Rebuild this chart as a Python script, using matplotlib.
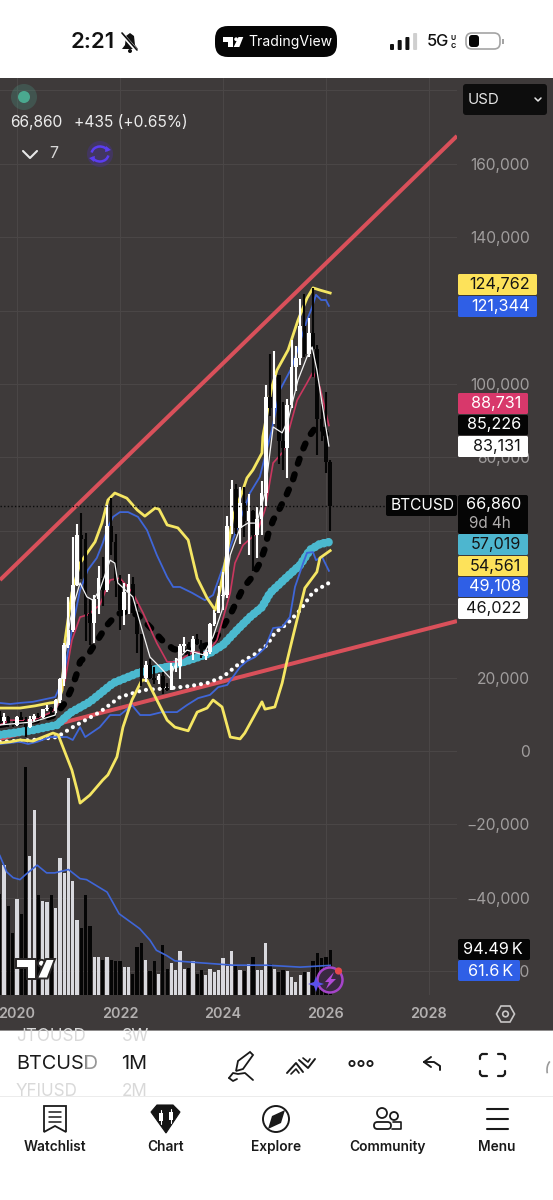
import numpy as np
import matplotlib
matplotlib.use("Agg")
import matplotlib.pyplot as plt
from matplotlib.patches import Rectangle, FancyBboxPatch, Circle, Polygon, Arc

plt.rcParams['font.family'] = ['Inter', 'DejaVu Sans']

# ---------- data (months counted from Jan 2020, prices in thousands of USD) ----------
first_month = -4  # Sep 2019
opens = [9.6,8.3,9.15,7.57,7.19,9.35,8.54,6.41,8.64,9.45,9.14,11.34,11.65,10.78,13.8,19.7,29.0,33.1,45.2,58.8,57.7,37.3,35.0,41.5,47.1,43.8,61.3,57.0,46.2,38.5,43.2,45.5,37.6,31.8,19.8,23.3,20.0,19.4,20.5,17.2,16.5,23.1,23.1,28.5,29.2,27.2,30.5,29.2,25.9,27.0,34.5,37.7,42.3,42.6,61.2,71.3,60.7,67.5,62.7,65.4,58.9,63.3,70.3,96.4,93.4,102.4,84.4,82.5,94.2,104.6,107.1,115.7,108.2,114.0,109.5,90.4,87.5,78.7]
highs = [10.9,10.37,9.5,7.75,9.58,10.5,9.19,9.46,10.07,10.38,11.45,12.48,12.05,14.1,19.87,29.3,41.99,58.35,61.8,64.9,59.5,41.3,42.6,50.5,52.9,67.0,69.0,59.0,47.9,45.8,48.2,47.4,40.0,31.9,24.6,25.2,22.8,21.0,21.5,18.4,23.9,25.3,29.2,31.0,29.8,31.4,31.8,30.2,27.5,35.0,38.4,45.0,48.9,64.0,73.8,72.8,72.0,71.9,70.0,65.6,66.5,73.6,99.8,108.3,109.0,102.5,95.0,95.8,111.9,110.4,123.2,124.5,117.9,126.2,110.7,94.6,97.9,79.3]
lows = [7.71,7.3,6.5,6.43,6.85,8.45,3.85,6.15,8.11,8.9,8.96,10.99,9.82,10.37,13.2,17.6,28.13,32.3,45.0,47.0,30.0,28.8,29.3,37.3,39.6,43.3,53.3,42.0,32.9,34.3,37.2,37.6,26.7,17.6,18.8,19.5,18.2,18.2,15.5,16.3,16.5,21.4,19.6,27.0,25.8,24.8,28.9,25.3,24.9,26.5,34.0,37.6,38.5,41.8,59.0,59.1,56.5,58.4,53.5,49.0,52.5,58.9,66.8,91.3,89.2,78.2,76.6,74.5,93.4,98.2,105.1,107.4,107.3,102.0,80.6,84.5,75.7,60.0]
closes = [8.3,9.15,7.57,7.19,9.35,8.54,6.41,8.64,9.45,9.14,11.34,11.65,10.78,13.8,19.7,29.0,33.1,45.2,58.8,57.7,37.3,35.0,41.5,47.1,43.8,61.3,57.0,46.2,38.5,43.2,45.5,37.6,31.8,19.8,23.3,20.0,19.4,20.5,17.2,16.5,23.1,23.15,28.5,29.2,27.2,30.5,29.2,25.9,27.0,34.5,37.7,42.3,42.6,61.2,71.3,60.7,67.5,62.7,65.4,58.9,63.3,70.3,96.4,93.4,102.4,84.4,82.5,94.2,104.6,107.1,115.7,108.2,114.0,109.5,90.4,87.5,78.7,66.86]
volumes_k = [211,270,185,129,200,169,475,289,384,207,195,193,209,180,285,254,452,238,157,139,207,143,80,80,72,79,72,71,71,58,58,44,100,108,72,49,70,43,105,55,67,53,91,54,57,71,43,51,42,55,47,53,78,61,91,61,51,49,64,79,53,51,109,65,55,48,53,50,37,28,42,48,47,70,88,78,80,94.5]
vol_ma_m = [-4,-2.4,-0.9,0.7,2.2,4.7,6.9,8.8,12,14.7,16.2,21,23.8,28.6,31,32.5,34.9,36.8,42.7,50.4,58.2,66,73]
vol_ma_k = [290,256,244,240,252,270,254,254,261,242,240,214,169,138,114,93,82,71,67,62,62,58,61.6]

yellow_up_m = [-4,0.7,4.2,7.7,9.6,10.5,11.2,12.8,14.7,16.5,18.2,19.8,21.2,22.8,25.6,28,29.8,32.2,33.1,35,37.5,39.9,42,44.3,46.2,47.3,49.2,50.3,52.4,53.6,55,57.1,57.3,59.4,60.6,63.2,65.5,67.6,69,70.6,73]
yellow_up_k = [11.7,11.7,12.3,13.1,13.4,16.6,30.2,43.1,51.2,54.2,57,62.1,68.4,70.3,68.9,65.7,64,66.2,65.9,61.6,60.8,57.5,47.1,41.7,38.4,43.9,55.6,63.8,70.3,74.4,76.6,81.2,85.6,99.2,103.8,109.3,117.4,123.4,126.2,125.6,124.8]
yellow_lo_m = [-4,-1.6,0.7,3.7,5.4,8.4,9.6,10.7,12.8,14,14.7,17,20,21.2,23.3,24.7,26.8,29.1,30.3,32.6,35,36.8,39.9,42,44.3,45.7,47.8,49.7,52,53.1,57.1,57.8,60.1,61.8,62.9,64.3,67.1,69.9,70.6,73]
yellow_lo_k = [2.2,2.5,3,2.7,3.5,4.9,4.4,1.1,-5.2,-10.6,-14.2,-12,-7.9,-6.5,-1.6,6.5,13.9,19.3,19.3,13.9,8.4,6.5,5.5,10.6,11.7,13.9,12,3.8,3.3,4.9,13.4,11.4,12,18.5,24.3,31.1,44.4,48.8,52.6,54.6]
blue_up_m = [-4,-1.6,0.7,3.7,7.7,8.9,10.7,12.8,14.7,16.5,18.6,20,21.2,22.4,24,25.9,28.2,30.3,32.6,35,36.4,38,40.8,43.8,45.7,49.2,54.3,56.6,59.4,61.3,64.1,67.6,68.8,69.7,70.9,72,72.7]
blue_up_k = [13.1,12.8,13.1,13.4,14.4,14.7,19.3,33,43.9,49.3,52.6,56.7,61,63.8,65.1,65.1,63.8,60.2,53.4,47.4,44.7,44.7,43.1,41.1,42.5,54,70.3,74.7,87.5,98.4,104.6,117.4,121,124.3,122.9,122.9,121.3]
blue_lo_m = [-4,0.7,2.6,4.7,7.7,11.7,13,14.7,15.9,19.3,21.7,24,26.8,28.7,31,33.8,37.3,39.6,42.2,45,46.9,49,52,53.6,55.5,57.8,59.7,61.8,63.6,64.8,66.7,67.6,69,69.7,71.1,72.7]
blue_lo_k = [1.9,2.5,1.9,2.5,3.8,3.8,3,6.5,3.8,6.5,9.8,9.8,12.5,9.8,9.8,10.6,10.6,12.5,14.4,15.3,17.4,18,22.9,24.5,25.6,28.1,33.5,33.8,36.5,44.7,51.2,54,54.2,52,52.9,49.1]
cyan_m = [-4,3.7,9.3,12.4,17,22.4,28.7,35,40.3,45,48,51.3,54.3,57.1,59,62.9,66,68.3,70.6,73]
cyan_k = [4.4,5.7,7.1,10.4,13.4,18.5,21.5,22.9,24.8,26.7,28.9,33,36.5,39.2,43.1,47.4,50.7,54.8,56.4,57]
dotted_m = [-4,3.7,9.3,13,19.3,24,29.4,36.4,40.3,44.3,48,52,55.9,58.3,60.1,62.9,66,69,73]
dotted_k = [2.5,3,3.8,6.5,10.6,14.7,16.6,17.2,17.7,18.5,20.2,24,26.7,28.9,32.2,34.6,38.4,43.3,46]
black_m = [-4,0.7,4.9,8.9,11.2,12.8,14,14.7,17,21,23.3,25.2,28.2,31,33.8,36.4,39.6,45.7,49.7,52.7,54.8,56.6,57.8,58.5,59.7,61.3,62.9,64.3,65.3,66.4,67.8,69.5,71.1,72.7]
black_k = [7.1,7.9,8.4,9.8,13.1,17.2,21.3,24.3,27,34.3,37.3,37.9,37.1,33.8,30.2,27.8,27,29.4,37.1,44.4,47.4,51.2,55.3,58.9,62.9,66.2,70,73.8,77.7,81.5,85.3,88,88,85.2]
red_m = [-4,-1.6,3.7,7.7,9.3,11.2,12.8,14.7,16.5,19.3,21.7,24,27,29.4,32.6,35,37.3,41,44.3,46.6,49.7,50.8,52.7,55.9,57.8,59.7,62,65.3,67.6,69,70.6,72.7]
red_k = [7.1,8.4,8.4,10.4,12,19.3,30.2,36.5,37.1,39.8,46.6,47.1,43.1,37.6,29.4,24.3,24.3,27,26.7,30.2,43.1,51.2,56.1,59.4,65.7,78.5,81.5,95.6,100.3,103.3,99.2,88.7]
white_m = [-4,3.7,8.9,10,12.4,13.5,14.7,16.3,17.7,19.3,21.7,22.8,23.5,27,28.7,31,33.3,35.7,37.3,39.6,43.4,45.7,47.8,49.7,52,53.8,55.9,57.8,59.7,61.8,63.2,65.5,67.6,68.8,69.9,71.1,72.7]
white_k = [7.1,7.9,9.8,16.6,35.7,41.1,45.8,42,41.1,43.9,52,51.2,45.8,42,34.9,25.6,22.9,19.9,24.8,27.5,26.2,31.1,38.4,53.4,60.8,62.1,62.1,70.3,88.3,86.7,90.2,101.1,107.4,110.1,103.8,94.8,83.1]
trend_m = [-3.96,102.56]
trend_up_k = [46.6,167.6]
trend_lo_k = [3.3,35.4]

year_ticks = [2020,2022,2024,2026,2028]
price_ticks_k = [180,160,140,120,100,80,60,40,20,0,-20,-40,-60]
hidden_ticks_k = [180,120,60,40]
last_price_k = 66.86

# ---------- colours ----------
BG = '#3e3a3a'; GRID = '#4a4646'; AX_TXT = '#a09d9d'
YEL = '#f5e663'; BLU = '#3f66d8'; CYA = '#4bb9cf'; CRIM = '#c9375f'; RED = '#d9505a'

W, H = 553, 1200
fig = plt.figure(figsize=(W/100, H/100), dpi=100, facecolor='white')

def frac_rect(x0, y0, x1, y1):
    return [x0/W, 1-y1/H, (x1-x0)/W, (y1-y0)/H]

# background chrome
bg = fig.add_axes([0,0,1,1], zorder=0)
bg.set_xlim(0,W); bg.set_ylim(H,0); bg.axis('off')
bg.add_patch(Rectangle((0,78),W,952,color=BG,lw=0))

# price panel
ax = fig.add_axes(frac_rect(0,78,457,995), zorder=2)
ax.patch.set_alpha(0)
ax.set_xlim(-3.96,102.56)
ax.set_ylim((751-995)*0.2725,(751-78)*0.2725)
for s in ax.spines.values(): s.set_visible(False)
ax.set_xticks([(y-2020)*12 for y in year_ticks])
ax.set_xticklabels([str(y) for y in year_ticks], fontsize=10.4, color='#b3b0b0', fontweight='semibold')
ax.set_yticks(price_ticks_k)
ax.set_yticklabels([(f"{v*1000:,}".replace('-','\u2212') if v not in hidden_ticks_k else '') for v in price_ticks_k], fontsize=11.2, color=AX_TXT, ha='right')
ax.yaxis.tick_right()
ax.tick_params(axis='y', length=0, pad=52.5)
ax.tick_params(axis='x', length=0, pad=9)
ax.grid(True, color=GRID, lw=0.8)
ax.set_axisbelow(True)

months = np.arange(first_month, first_month+len(closes))
o,h,l,c = map(np.array,(opens,highs,lows,closes))
up = c>=o
ax.plot(trend_m, trend_up_k, color=RED, lw=2.9, zorder=2, solid_capstyle='butt')
ax.plot(trend_m, trend_lo_k, color=RED, lw=2.9, zorder=2, solid_capstyle='butt')
ax.plot(cyan_m, cyan_k, color=CYA, lw=6.2, ls=(0,(0.01,0.55)), dash_capstyle='round', zorder=2.2)
ax.plot(dotted_m, dotted_k, color='white', lw=3.0, ls=(0,(0.01,1.65)), dash_capstyle='round', zorder=2.3)
ax.plot(black_m, black_k, color='black', lw=4.6, ls=(0,(0.8,1.75)), dash_capstyle='round', zorder=2.4)
ax.plot(red_m, red_k, color=CRIM, lw=1.2, zorder=2.5)
ax.plot(blue_up_m, blue_up_k, color=BLU, lw=1.3, zorder=2.6)
ax.plot(blue_lo_m, blue_lo_k, color=BLU, lw=1.3, zorder=2.6)
ax.plot(yellow_up_m, yellow_up_k, color=YEL, lw=2.0, zorder=2.7)
ax.plot(yellow_lo_m, yellow_lo_k, color=YEL, lw=2.0, zorder=2.7)
cols = np.where(up,'#ffffff','#050505')
ax.vlines(months, l, h, colors=cols, lw=1.5, zorder=3)
ax.bar(months, np.abs(c-o), bottom=np.minimum(o,c), width=0.85, color=cols, lw=0, zorder=3.1)
ax.plot(white_m, white_k, color='#f4f4f4', lw=0.9, zorder=3.2)
ax.axhline(last_price_k, color='#0a0a0a', lw=1, ls=(0,(1,1.6)), zorder=3.3)

# volume panel
vax = fig.add_axes(frac_rect(0,78,457,995), zorder=3, sharex=ax)
vax.patch.set_alpha(0); vax.axis('off')
vax.set_ylim(0,(995-78)*2.08)
vcols = np.where(up,'#d9d9de','#050505')
vax.bar(months, volumes_k, width=0.76, color=vcols, lw=0, zorder=2)
vax.plot(vol_ma_m, vol_ma_k, color=BLU, lw=1.2, zorder=3)

# interface overlay, in screen pixels
ui = fig.add_axes([0,0,1,1], zorder=5)
ui.set_xlim(0,W); ui.set_ylim(H,0); ui.axis('off'); ui.patch.set_alpha(0)

def T(x,y,s,size=11,color='white',ha='left',weight='normal',z=4):
    ui.text(x,y,s,fontsize=size,color=color,ha=ha,va='center',fontweight=weight,zorder=z)
def box(x0,y0,x1,y1,color,r=2,z=1):
    ui.add_patch(FancyBboxPatch((x0+r,y0+r),x1-x0-2*r,y1-y0-2*r,boxstyle=f"round,pad={r},rounding_size={r}",fc=color,ec='none',lw=0,zorder=z))
def line(xs,ys,color='black',lw=1.5,z=3):
    ui.plot(xs,ys,color=color,lw=lw,zorder=z,solid_capstyle='round',solid_joinstyle='round')

# price tags
BL2='#2f5fe6'
tags = [(458,537,274,295,'#fde25a','124,762','#151515'),(458,537,296,317,BL2,'121,344','white'),
        (458,528,393,414,'#d8386b','88,731','white'),(458,528,415,435,'#050505','85,226','white'),
        (458,528,436,457,'white','83,131','#151515'),(458,528,534,555,'#4db6cf','57,019','#151515'),
        (458,528,556,576,'#fde25a','54,561','#151515'),(458,528,577,597,BL2,'49,108','white'),
        (458,528,598,619,'white','46,022','#151515')]
for x0,x1,y0,y1,col,s,tc in tags:
    box(x0,y0,x1,y1,col,r=1.5)
    T(x1-7,(y0+y1)/2,s,11.7,tc,ha='right')
box(386,495,457,516,'#050505'); T(391,505.5,'BTCUSD',11.2,'white')
box(458,495,528,534,'#050505')
T(521,505,'66,860',11.7,'white',ha='right')
T(469,523,'9d 4h',11,'#b0adad')
box(458,939,530,960,'#050505'); T(523,950,'94.49\u2009K',11.7,'white',ha='right')
box(458,960,520,981,BL2); T(513,971,'61.6\u2009K',11.7,'white',ha='right')

# USD box
box(463,84,547,115,'#0d0d0d',r=3); T(468,99.5,'USD',10.8,'#e6e6e6')
line([535,538,541],[98,101,98],'#e6e6e6',1.1)

# legend area
ui.add_patch(Circle((24,97),13,fc='#4b9a86',alpha=0.28,lw=0))
ui.add_patch(Circle((24,97),6,fc='#4aa98f',lw=0))
T(10.5,122.5,'66,860',11.2,'#ececec'); T(74,122.5,'+435 (+0.65%)',11.2,'#ececec')
line([23,30,37],[151,158,151],'#e8e8e8',1.5); T(49,154,'7',11.5,'#d8d8d8')
ui.add_patch(Circle((100,154),13,fc='#4c2fa8',alpha=0.35,lw=0))
ui.add_patch(Arc((100,154),17,15,theta1=190,theta2=340,ec='#5a3df0',lw=1.8))
ui.add_patch(Arc((100,154),17,15,theta1=10,theta2=160,ec='#5a3df0',lw=1.8))
ui.add_patch(Polygon([[106,146],[111,150],[105,152]],fc='#5a3df0',lw=0))
ui.add_patch(Polygon([[94,162],[89,158],[95,156]],fc='#5a3df0',lw=0))

# status bar
T(71,41.5,'2:21',16,'#111111',weight='semibold')
ui.add_patch(Polygon([[122,49],[125,45],[126,36],[130,33],[134,36],[135,45],[138,49]],fc='#111',lw=0))
ui.add_patch(Circle((130,51),2,fc='#111',lw=0))
line([122,137],[34,51],'white',2.6,z=4); line([122,137],[33,50],'#111',1.2,z=5)
box(215,26,337,57,'#050505',r=13)
def tv_logo(x,y,sx,sy,fc,ec=None,z=4):
    e = ec if ec else 'none'
    lw = 1.4 if ec else 0
    ui.add_patch(Polygon([[x,y],[x+13*sx,y],[x+13*sx,y+10*sy],[x+7*sx,y+10*sy],[x+7*sx,y+4.5*sy],[x,y+4.5*sy]],fc=fc,ec=e,lw=lw,zorder=z))
    ui.add_patch(Circle((x+17*sx,y+2.2*sy),2.3*sx,fc=fc,ec=e,lw=lw,zorder=z))
    ui.add_patch(Polygon([[x+20*sx,y],[x+26*sx,y],[x+21*sx,y+10*sy],[x+14*sx,y+10*sy]],fc=fc,ec=e,lw=lw,zorder=z))
tv_logo(222.5,37,0.8,1.0,'white')
T(248,42,'TradingView',10.1,'white')
for i,(bh,col) in enumerate(zip([6,10,13,17],['#111','#111','#111','#cfcfcf'])):
    box(390+i*7.7,49-bh+1,394+i*7.7,50,col,r=1)
T(427,42,'5G',11.8,'#111111',weight='medium')
T(453,38,'U',5,'#111',ha='center',weight='bold')
T(453,46,'C',5,'#111',ha='center',weight='bold')
ui.add_patch(FancyBboxPatch((466,33),34,16,boxstyle="round,pad=0,rounding_size=6",fc='white',ec='#a4a4a4',lw=1.2))
box(469,35,479,47,'#050505',r=3,z=3)
ui.add_patch(Rectangle((502,38.5),1.5,5,fc='#a4a4a4',lw=0))

# hexagon at time axis
hx,hy=505.5,1014
ui.add_patch(Polygon([[hx-9,hy],[hx-4.5,hy-8],[hx+4.5,hy-8],[hx+9,hy],[hx+4.5,hy+8],[hx-4.5,hy+8]],fc='none',ec='#c8c6c6',lw=1.2))
ui.add_patch(Circle((hx,hy),2.8,fc='none',ec='#c8c6c6',lw=1.2))

# chart logo and badge
tv_logo(16,959,1.5,1.95,'white','#2a2727')
ui.add_patch(Circle((330,980),12.5,fc='#3a2a40',ec='#a544c9',lw=1.8,zorder=3))
ui.add_patch(Polygon([[334,972],[325,982],[329,982],[326,989],[336,979],[331,979]],fc='#b14bd6',lw=0,zorder=4))
ui.add_patch(Circle((338.5,971),3.6,fc='#e5484d',lw=0,zorder=5))
ui.add_patch(Polygon([[316,976],[318,982],[324,984],[318,986],[316,992],[314,986],[308,984],[314,982]],fc='#5b50ea',lw=0,zorder=5))

# lower toolbar
ui.add_patch(Rectangle((0,1030),W,170,fc='white',lw=0,zorder=0.5))
T(16,1036.5,'JTOUSD',12.3,'#d9d9d9'); T(122,1036.5,'3W',12.3,'#d9d9d9')
ui.add_patch(Rectangle((0,1030),W,1.2,fc='#8e8c8c',lw=0,zorder=2))
T(16,1064,'BTCUSD',14.3,'#1a1a1a'); T(121,1064,'1M',14.3,'#1a1a1a')
ui.add_patch(Rectangle((86,1052),16,26,fc='white',alpha=0.55,lw=0,zorder=5))
T(16,1091,'YFIUSD',12.3,'#d9d9d9'); T(122,1091,'2M',12.3,'#d9d9d9')
ui.add_patch(Rectangle((0,1096),W,1,fc='#ececec',lw=0,zorder=2))
ui.add_patch(Polygon([[238,1061],[250,1052],[253,1055],[243,1069],[236,1071]],fc='none',ec='#1a1a1a',lw=1.3))
line([229,233,238,245,253],[1078,1073,1074,1073,1080],'#1a1a1a',1.3)
line([229,233,237],[1078,1081,1079],'#1a1a1a',1.3)
line([287,296,303],[1073,1063,1072],'#1a1a1a',1.4); line([291,296,299],[1074,1069,1073],'#1a1a1a',1.2)
line([299,308,315],[1060,1068,1059],'#1a1a1a',1.4); line([303,308,310],[1058,1062,1059],'#1a1a1a',1.2)
for xx in (352,361,370):
    ui.add_patch(Circle((xx,1063.5),2.6,fc='none',ec='#1a1a1a',lw=1.3))
line([424,431],[1062,1057],'#1a1a1a',1.4); line([424,431],[1062,1067],'#1a1a1a',1.4)
line([424,434,440,440],[1062,1062,1066,1070],'#1a1a1a',1.4)
for cx,cy,dx,dy in ((480,1054,1,1),(505,1054,-1,1),(480,1076,1,-1),(505,1076,-1,-1)):
    line([cx,cx,cx+dx*2,cx+dx*7],[cy+dy*5,cy+dy*2,cy,cy],'#1a1a1a',1.6)
ui.add_patch(Arc((553,1070),12,20,theta1=150,theta2=250,ec='#9a9a9a',lw=1.2))

# tab bar
ui.add_patch(Polygon([[44,1106],[66,1106],[66,1132],[55,1126],[44,1132]],fc='none',ec='#1a1a1a',lw=1.3))
for yy in (1112,1117,1122):
    line([49,61],[yy,yy],'#1a1a1a',1.1)
ui.add_patch(Polygon([[151,1112],[157,1105],[173,1105],[180,1112],[166,1133]],fc='#141414',ec='#141414',lw=0.8))
for xx,yy in ((161,1117),(171,1116)):
    ui.add_patch(Rectangle((xx-2,yy-4),4,8,fc='white',lw=0,zorder=3)); line([xx,xx],[yy-7,yy+7],'white',0.8,z=4)
ui.add_patch(Circle((276,1119),13,fc='none',ec='#1a1a1a',lw=1.4))
ui.add_patch(Polygon([[285,1110],[281,1123],[268,1129],[272,1116]],fc='#1a1a1a',lw=0))
ui.add_patch(Circle((382,1113),5,fc='none',ec='#1a1a1a',lw=1.3)); ui.add_patch(Circle((394,1116),4,fc='none',ec='#1a1a1a',lw=1.3))
ui.add_patch(FancyBboxPatch((374,1122),17,7,boxstyle="round,pad=0,rounding_size=3.5",fc='white',ec='#1a1a1a',lw=1.3,zorder=2))
line([393,401,401,392],[1122,1122,1129,1129],'#1a1a1a',1.2)
for yy in (1109,1119,1129):
    line([487,508],[yy,yy],'#1a1a1a',1.5)
for xx,s in ((55,'Watchlist'),(165.5,'Chart'),(276,'Explore'),(387,'Community'),(497,'Menu')):
    T(xx,1147,s,9.9,'#1a1a1a',ha='center',weight='semibold')

fig.savefig('out.png', dpi=100, facecolor='white')
